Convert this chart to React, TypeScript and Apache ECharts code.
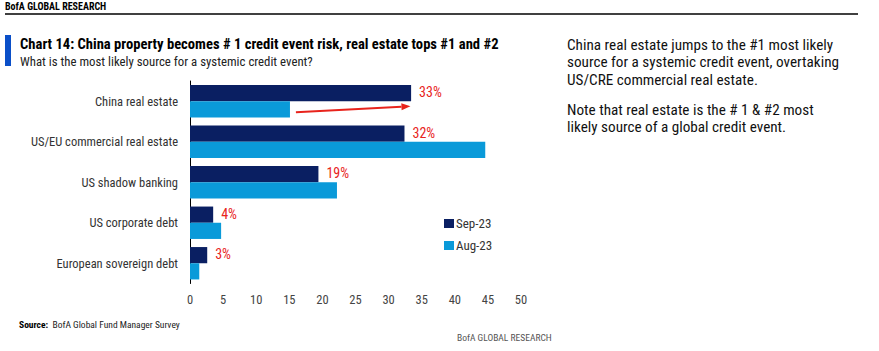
import React, { useEffect, useRef } from "react";
import * as echarts from "echarts";

const categories = [
  "China real estate",
  "US/EU commercial real estate",
  "US shadow banking",
  "US corporate debt",
  "European sovereign debt",
];
const sep23 = [33.4, 32.4, 19.4, 3.5, 2.6];
const aug23 = [15.1, 44.6, 22.2, 4.7, 1.4];
const seriesNames = ["Sep-23", "Aug-23"];
const xTicks = { min: 0, max: 50, interval: 5 };
const arrowFrom = 16;
const arrowTo = 33.3;

const FONT = '"Liberation Sans Narrow", "Roboto Condensed", "Noto Sans", sans-serif';
const NAVY = "#0a1f62";
const LIGHT = "#0a9ad9";
const RED = "#e8231c";

export default function App() {
  const ref = useRef<HTMLDivElement>(null);
  useEffect(() => {
    if (!ref.current) return;
    const chart = echarts.init(ref.current, undefined, { renderer: "svg" });
    const baseGraphic: any[] = [
      { id: "hdr", type: "text", left: 5, top: 1, style: { text: "BofA GLOBAL RESEARCH", font: `bold 10px ${FONT}`, fill: "#000" } },
      { id: "hline", type: "line", shape: { x1: 5, y1: 14, x2: 858, y2: 14 }, style: { stroke: "#000", lineWidth: 1.5 } },
      { id: "bar", type: "rect", shape: { x: 5, y: 35, width: 6, height: 31 }, style: { fill: "#0a4fc8" } },
      { id: "title", type: "text", left: 20, top: 36, style: { text: "Chart 14: China property becomes # 1 credit event risk, real estate tops #1 and #2", font: `bold 14.6px ${FONT}`, fill: "#000" } },
      { id: "sub", type: "text", left: 20, top: 55, style: { text: "What is the most likely source for a systemic credit event?", font: `12.8px ${FONT}`, fill: "#222" } },
      { id: "note1", type: "text", left: 567, top: 36, style: { text: "China real estate jumps to the #1 most likely\nsource for a systemic credit event, overtaking\nUS/CRE commercial real estate.", font: `15.2px ${FONT}`, fill: "#111", lineHeight: 17.6 } },
      { id: "note2", type: "text", left: 567, top: 101, style: { text: "Note that real estate is the # 1 & #2 most\nlikely source of a global credit event.", font: `15.2px ${FONT}`, fill: "#111", lineHeight: 17.6 } },
      { id: "src", type: "text", left: 19, top: 319, style: { rich: { b: { font: `bold 9.5px ${FONT}`, fill: "#000" }, n: { font: `9.5px ${FONT}`, fill: "#222" } }, text: "{b|Source:}{n|  BofA Global Fund Manager Survey}" } },
      { id: "foot", type: "text", left: 457, top: 332, style: { text: "BofA GLOBAL RESEARCH", font: `9.5px ${FONT}`, fill: "#555" } },
    ];
    chart.setOption({
      animation: false,
      backgroundColor: "#fff",
      textStyle: { fontFamily: FONT },
      grid: { left: 190, top: 81, width: 331, height: 202.5, containLabel: false },
      legend: {
        orient: "vertical",
        left: 439,
        top: 212,
        itemWidth: 10,
        itemHeight: 9,
        itemGap: 9,
        icon: "rect",
        textStyle: { fontSize: 13, color: "#333", fontFamily: FONT, padding: [0, 0, 0, -3] },
        data: seriesNames,
      },
      xAxis: {
        type: "value",
        min: xTicks.min,
        max: xTicks.max,
        interval: xTicks.interval,
        axisLine: { show: false },
        axisTick: { show: false },
        splitLine: { show: false },
        axisLabel: { color: "#444", fontSize: 12.5, margin: 9, fontFamily: FONT },
      },
      yAxis: {
        type: "category",
        data: categories,
        inverse: true,
        axisLine: { show: true, lineStyle: { color: "#000", width: 1 } },
        axisTick: { show: false },
        axisLabel: { color: "#333", fontSize: 12.5, margin: 12, fontFamily: FONT },
      },
      series: [
        {
          name: seriesNames[0],
          type: "bar",
          data: sep23,
          barGap: "0%",
          barCategoryGap: "20%",
          itemStyle: { color: NAVY },
          label: {
            show: true,
            position: "right",
            distance: 8,
            formatter: (p: any) => `${Math.round(p.value)}%`,
            color: RED,
            fontSize: 14,
            fontFamily: FONT,
            offset: [0, -1],
          },
        },
        {
          name: seriesNames[1],
          type: "bar",
          data: aug23,
          barGap: "0%",
          barCategoryGap: "20%",
          itemStyle: { color: LIGHT },
        },
      ],
      graphic: baseGraphic,
    });
    const yc = chart.convertToPixel({ yAxisIndex: 0 }, categories[0]) as number;
    const x1 = chart.convertToPixel({ xAxisIndex: 0 }, arrowFrom) as number;
    const x2 = chart.convertToPixel({ xAxisIndex: 0 }, arrowTo) as number;
    const y1 = yc + 11;
    const y2 = yc + 5;
    const ang = Math.atan2(y2 - y1, x2 - x1);
    const L = 9, W = 3.5;
    const bx = x2 - L * Math.cos(ang), by = y2 - L * Math.sin(ang);
    const px = -Math.sin(ang) * W, py = Math.cos(ang) * W;
    chart.setOption({
      graphic: [
        ...baseGraphic,
        { id: "arrowLine", type: "line", shape: { x1, y1, x2: bx, y2: by }, style: { stroke: RED, lineWidth: 2 } },
        { id: "arrowHead", type: "polygon", shape: { points: [[x2, y2], [bx + px, by + py], [bx - px, by - py]] }, style: { fill: RED } },
      ],
    });
    return () => chart.dispose();
  }, []);
  return (
    <div
      ref={ref}
      style={{ position: "fixed", left: 0, top: 0, width: 879, height: 351, background: "#fff" }}
    />
  );
}
